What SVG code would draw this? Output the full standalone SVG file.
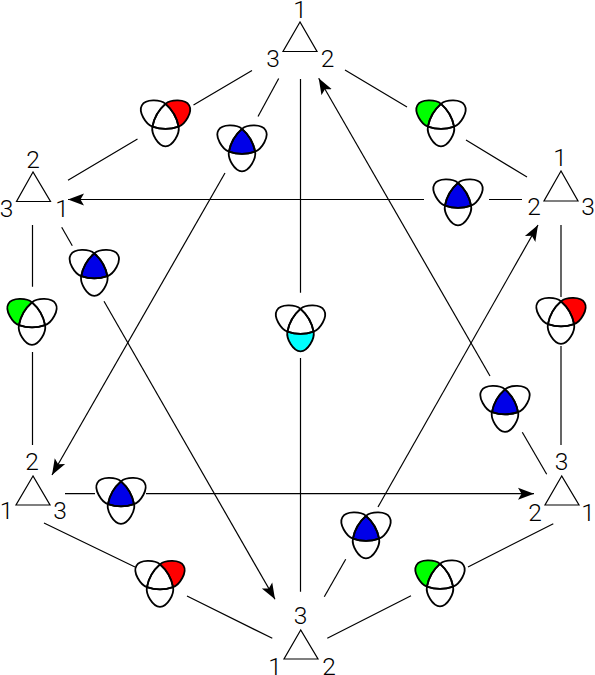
<svg xmlns="http://www.w3.org/2000/svg" width="595" height="675" viewBox="0 0 595 675">
<style>
.t{fill:none;stroke:#000;stroke-width:1.2}
.c{fill:none;stroke:#000;stroke-width:1.2}
.k{fill:none;stroke:#000;stroke-width:1.8}
text{font-family:Roboto,"Liberation Sans",Arial,sans-serif;font-weight:300;font-size:24.5px;text-anchor:middle;fill:#000;transform:rotate(.002deg)}
</style>
<defs>
<marker id="ah" markerUnits="userSpaceOnUse" markerWidth="18" markerHeight="14" refX="16" refY="7" orient="auto"><path d="M16,7 L0,1 L3.5,7 L0,13Z" fill="#000"/></marker>
<path id="eb" d="M0,-15.1C6.95,-9.07 11.35,-1.48 13.1,7.55C14.4,14.5 7.5,27.3 0,27.3C-7.5,27.3 -14.4,14.5 -13.1,7.55C-11.35,-1.48 -6.95,-9.07 0,-15.1Z"/>
<use id="el" href="#eb" transform="rotate(120)"/>
<use id="er" href="#eb" transform="rotate(-120)"/>
<clipPath id="cb"><path d="M0,-15.1C6.95,-9.07 11.35,-1.48 13.1,7.55C14.4,14.5 7.5,27.3 0,27.3C-7.5,27.3 -14.4,14.5 -13.1,7.55C-11.35,-1.48 -6.95,-9.07 0,-15.1Z"/></clipPath>
<clipPath id="cl"><path transform="rotate(120)" d="M0,-15.1C6.95,-9.07 11.35,-1.48 13.1,7.55C14.4,14.5 7.5,27.3 0,27.3C-7.5,27.3 -14.4,14.5 -13.1,7.55C-11.35,-1.48 -6.95,-9.07 0,-15.1Z"/></clipPath>
<g id="k"><use href="#eb" class="k"/><use href="#el" class="k"/><use href="#er" class="k"/></g>
<g id="tb"><g clip-path="url(#cb)"><g clip-path="url(#cl)"><use href="#er" fill="#0000e8"/></g></g><use href="#k"/></g>
<g id="tr"><use href="#er" fill="#ff0000"/><use href="#el" fill="#fff"/><use href="#eb" fill="#fff"/><use href="#k"/></g>
<g id="tg"><use href="#el" fill="#00ff00"/><use href="#er" fill="#fff"/><use href="#eb" fill="#fff"/><use href="#k"/></g>
<g id="tc"><use href="#eb" fill="#00ffff"/><use href="#el" fill="#fff"/><use href="#er" fill="#fff"/><use href="#k"/></g>
</defs>
<rect width="595" height="675" fill="#fff"/>
<g id="connectors" class="c">
<path d="M252,70.5L193.5,105M137.5,139L68,180.3"/>
<path d="M278.7,78.5L258,116.5"/>
<path d="M225,173L52,475" marker-end="url(#ah)"/>
<path d="M300.5,79V292.7M300.5,358V591.7"/>
<path d="M345,70L407,107M466,140L527,177"/>
<path d="M522,199.5H489M424,199.5H68" marker-end="url(#ah)"/>
<path d="M490,376L318.7,78.3" marker-end="url(#ah)"/>
<path d="M522.3,432.3L546.7,474.3"/>
<path d="M32.5,225V286.7M32.5,352V445"/>
<path d="M61.7,227.3L72.3,245.7"/>
<path d="M104,301.3L275,599.3" marker-end="url(#ah)"/>
<path d="M44,523L135,567M187,596L272.3,638.3"/>
<path d="M324.3,596.7L345.7,559.3"/>
<path d="M378,507L538,225" marker-end="url(#ah)"/>
<path d="M327.3,638.3L411,595.7M468,567L553.3,523.7"/>
<path d="M65,493.7H95M146,493.7H534" marker-end="url(#ah)"/>
<path d="M561,225V297M561,346V445"/>
</g>
<g id="n-top"><path class="t" d="M300,22L283,51.5H317Z"/><text x="300" y="18">1</text><text x="273" y="67">3</text><text x="327.5" y="67">2</text></g>
<g id="n-left"><path class="t" d="M33,172L16.5,201.5H50.5Z"/><text x="33" y="167.5">2</text><text x="6.5" y="217">3</text><text x="62" y="217">1</text></g>
<g id="n-right"><path class="t" d="M561,171L544,201H578Z"/><text x="560" y="166">1</text><text x="534" y="215">2</text><text x="588" y="215">3</text></g>
<g id="n-bl"><path class="t" d="M33,476L16,505H50Z"/><text x="32" y="470">2</text><text x="6.5" y="519">1</text><text x="60" y="519">3</text></g>
<g id="n-br"><path class="t" d="M561.7,476L545,505H579Z"/><text x="561.5" y="470">3</text><text x="535" y="521">2</text><text x="588" y="521">1</text></g>
<g id="n-bottom"><path class="t" d="M300.7,630L284,659H318Z"/><text x="300.5" y="624">3</text><text x="275" y="674.5">1</text><text x="329" y="674.5">2</text></g>
<g id="k1" transform="translate(165.5 119)"><use href="#tr"/></g>
<g id="k2" transform="translate(242 144)"><use href="#tb"/></g>
<g id="k3" transform="translate(441 119)"><use href="#tg"/></g>
<g id="k4" transform="translate(458 198)"><use href="#tb"/></g>
<g id="k5" transform="translate(94.3 268.5)"><use href="#tb"/></g>
<g id="k6" transform="translate(32 317.5)"><use href="#tg"/></g>
<g id="k7" transform="translate(561 316.5)"><use href="#tr"/></g>
<g id="k8" transform="translate(300.5 324)"><use href="#tc"/></g>
<g id="k9" transform="translate(505 404.5)"><use href="#tb"/></g>
<g id="k10" transform="translate(121 496.5)"><use href="#tb"/></g>
<g id="k11" transform="translate(366 531)"><use href="#tb"/></g>
<g id="k12" transform="translate(440 579)"><use href="#tg"/></g>
<g id="k13" transform="translate(160 579.5)"><use href="#tr"/></g>
</svg>
